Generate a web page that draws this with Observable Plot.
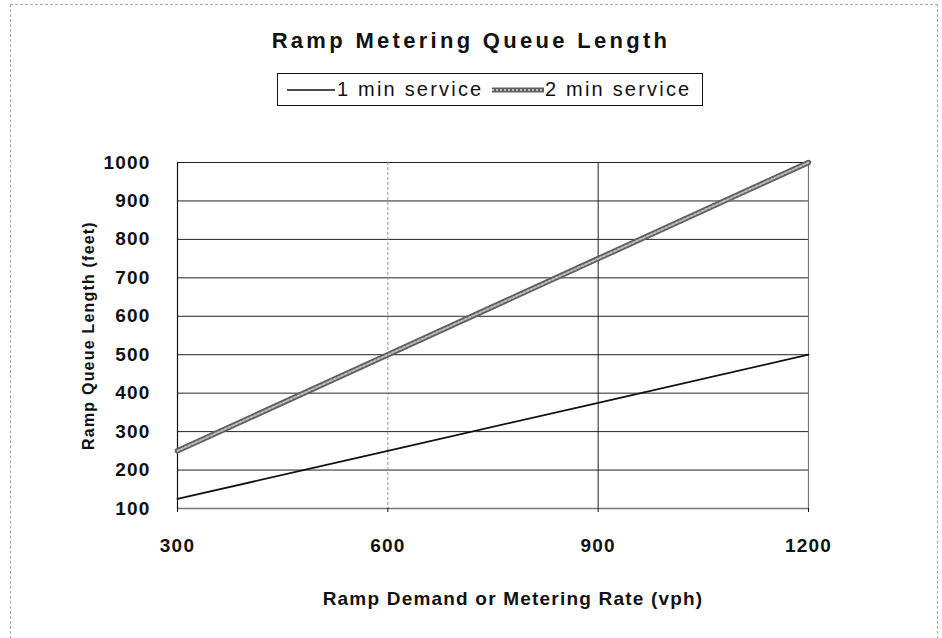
<!DOCTYPE html>
<html>
<head>
<meta charset="utf-8">
<script src="https://cdn.jsdelivr.net/npm/d3@7"></script>
<script src="https://cdn.jsdelivr.net/npm/@observablehq/plot@0.6"></script>
<style>
  html, body { margin: 0; padding: 0; background: #fff; }
  #wrap { position: relative; width: 942px; height: 638px; overflow: hidden; font-family: "Liberation Sans", Arial, sans-serif; }
  #frame { position: absolute; left: 10px; top: 4px; width: 928px; height: 660px; border: 1px dashed #aaa; box-sizing: border-box; pointer-events: none; }
  #header { height: 120px; position: relative; }
  #title { position: absolute; left: 0; width: 942px; top: 28px; text-align: center; font-weight: bold; font-size: 22px; letter-spacing: 3.3px; color: #111; }
  #legend { position: absolute; left: 277px; top: 73px; width: 426px; height: 33px; border: 1px solid #111; box-sizing: border-box; font-size: 20px; letter-spacing: 2.2px; color: #111; white-space: nowrap; }
  #legend .it { position: absolute; top: 0; height: 31px; line-height: 31px; }
  #legend svg { position: absolute; top: 12px; }
  #chart svg text { letter-spacing: 1.2px; }
</style>
</head>
<body>
<div id="wrap">
  <div id="frame"></div>
  <div id="header">
    <div id="title">Ramp Metering Queue Length</div>
    <div id="legend"></div>
  </div>
  <div id="chart"></div>
</div>
<script>
const rates = [300, 600, 900, 1200];
const oneMin = [125, 250, 375, 500];
const twoMin = [250, 500, 750, 1000];
const seriesNames = ["1 min service", "2 min service"];
const yTicks = [100, 200, 300, 400, 500, 600, 700, 800, 900, 1000];
const xTicks = [300, 600, 900, 1200];

const d1 = rates.map((r, i) => ({x: r, y: oneMin[i]}));
const d2 = rates.map((r, i) => ({x: r, y: twoMin[i]}));

// legend
const leg = document.getElementById("legend");
leg.innerHTML =
  `<svg style="left:9px" width="48" height="8"><line x1="0" x2="48" y1="4" y2="4" stroke="#111" stroke-width="1.5"/></svg>` +
  `<span class="it" style="left:59px">${seriesNames[0]}</span>` +
  `<svg style="left:214px" width="52" height="8"><line x1="0" x2="52" y1="4" y2="4" stroke="#5f5f5f" stroke-width="5"/><line x1="0" x2="52" y1="4" y2="4" stroke="#bdbdbd" stroke-width="2" stroke-dasharray="2,2"/></svg>` +
  `<span class="it" style="left:267px">${seriesNames[1]}</span>`;

const font = "Liberation Sans, Arial, sans-serif";
const plot = Plot.plot({
  width: 942,
  height: 518,
  marginTop: 42,
  marginBottom: 130,
  marginLeft: 177,
  marginRight: 134,
  style: {fontFamily: font, fontSize: "19px", fontWeight: "bold", color: "#111", background: "#fff"},
  x: {domain: [300, 1200], label: null},
  y: {domain: [100, 1000], label: null},
  marks: [
    Plot.ruleY(yTicks, {stroke: "#222", strokeWidth: 1}),
    Plot.ruleX([600], {stroke: "#999", strokeWidth: 1, strokeDasharray: "3,2"}),
    Plot.ruleX([900], {stroke: "#222", strokeWidth: 1}),
    Plot.ruleX([1200], {stroke: "#777", strokeWidth: 1.2}),
    Plot.ruleY([100], {stroke: "#777", strokeWidth: 1.5}),
    Plot.ruleX([300], {stroke: "#111", strokeWidth: 1.2}),
    Plot.line(d1, {x: "x", y: "y", stroke: "#111", strokeWidth: 1.8}),
    Plot.line(d2, {x: "x", y: "y", stroke: "#5f5f5f", strokeWidth: 5.5}),
    Plot.line(d2, {x: "x", y: "y", stroke: "#bdbdbd", strokeWidth: 2, strokeDasharray: "2,2"}),
    Plot.axisX({ticks: xTicks, tickSize: 4, tickPadding: 26, tickFormat: d => String(d), label: null, fontSize: 19}),
    Plot.axisY({ticks: yTicks, tickSize: 0, tickPadding: 27, tickFormat: d => String(d), label: null, fontSize: 19}),
    Plot.text(["Ramp Demand or Metering Rate (vph)"], {frameAnchor: "bottom", dy: 90, dx: 20, fontSize: 19, fontWeight: "bold", fill: "#111", lineAnchor: "middle"}),
    Plot.text(["Ramp Queue Length (feet)"], {frameAnchor: "left", dx: -89, rotate: -90, textAnchor: "middle", fontSize: 16, fontWeight: "bold", fill: "#111"})
  ]
});
document.getElementById("chart").appendChild(plot);
</script>
</body>
</html>
